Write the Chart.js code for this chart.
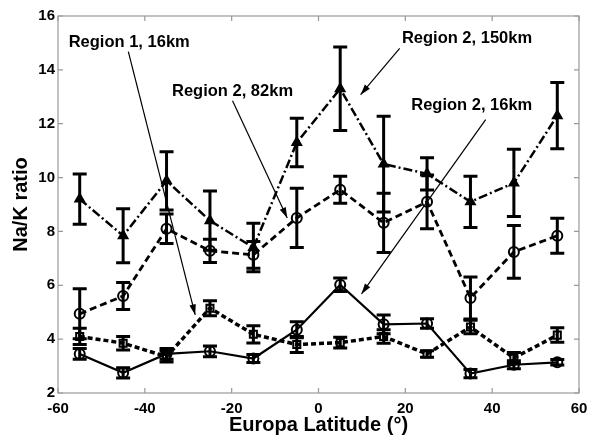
<!DOCTYPE html>
<html>
<head>
<meta charset="utf-8">
<script src="https://cdn.jsdelivr.net/npm/chart.js@4.4.0/dist/chart.umd.min.js"></script>
<style>
  html, body { margin: 0; padding: 0; background: #fff; }
  #wrap { width: 589px; height: 439px; }
</style>
</head>
<body>
<div id="wrap"><canvas id="naChart" width="589" height="439"></canvas></div>
<script>
// latitude bins (deg)
const latitudes = [-55, -45, -35, -25, -15, -5, 5, 15, 25, 35, 45, 55];

// Na/K ratio per region/altitude, with +/- error
const region2_150 = [9.2, 7.84, 9.88, 8.4, 7.4, 11.3, 13.3, 10.5, 10.14, 9.1, 9.8, 12.3];
const region2_150Err = [0.93, 1.0, 1.08, 1.1, 0.9, 0.9, 1.55, 1.78, 0.6, 0.95, 1.25, 1.23];
const region2_82 = [4.94, 5.6, 8.1, 7.28, 7.13, 8.5, 9.55, 8.32, 9.1, 5.53, 7.24, 7.84];
const region2_82Err = [0.93, 0.5, 0.55, 0.43, 0.5, 1.1, 0.5, 1.1, 1.0, 0.78, 0.98, 0.65];
const region1_16 = [4.1, 3.85, 3.35, 5.15, 4.18, 3.8, 3.87, 4.1, 3.45, 4.45, 3.3, 4.15];
const region1_16Err = [0.3, 0.25, 0.2, 0.28, 0.32, 0.3, 0.2, 0.25, 0.12, 0.25, 0.2, 0.27];
const region2_16 = [3.45, 2.75, 3.45, 3.55, 3.28, 4.35, 6.02, 4.55, 4.58, 2.72, 3.05, 3.14];
const region2_16Err = [0.2, 0.19, 0.2, 0.2, 0.15, 0.3, 0.25, 0.35, 0.18, 0.15, 0.15, 0.1];

const xTicks = [-60, -40, -20, 0, 20, 40, 60];
const yTicks = [2, 4, 6, 8, 10, 12, 14, 16];

// labels with arrows: text position, arrow from -> to (data coords)
const labels = [
  { text: 'Region 1, 16km', at: [-43.6, 15.0], from: [-43.8, 14.68], to: [-28.4, 4.9] },
  { text: 'Region 2, 82km', at: [-19.8, 13.2], from: [-19.8, 12.85], to: [-7.2, 8.5] },
  { text: 'Region 2, 150km', at: [34.2, 15.16], from: [18.7, 14.8], to: [9.7, 13.08] },
  { text: 'Region 2, 16km', at: [35.3, 12.67], from: [38.5, 12.15], to: [9.9, 5.68] },
];

const FONT = '"Liberation Sans", Arial, sans-serif';

const toPoints = vals => vals.map((v, i) => ({ x: latitudes[i], y: v }));

const series = [
  { label: 'Region 2, 150km', data: region2_150, err: region2_150Err, dash: [9, 3, 2, 3], width: 2.5, marker: 'triangle', fill: '#000' },
  { label: 'Region 2, 82km', data: region2_82, err: region2_82Err, dash: [7, 4], width: 2.8, marker: 'circle', fill: 'rgba(0,0,0,0)' },
  { label: 'Region 1, 16km', data: region1_16, err: region1_16Err, dash: [5, 3], width: 3.5, marker: 'rect', fill: 'rgba(0,0,0,0)' },
  { label: 'Region 2, 16km', data: region2_16, err: region2_16Err, dash: [], width: 2.2, marker: 'circle', fill: 'rgba(0,0,0,0)' },
];

const errorBars = {
  id: 'errorBars',
  afterDatasetsDraw(chart) {
    const ctx = chart.ctx;
    const xs = chart.scales.x, ys = chart.scales.y;
    ctx.save();
    ctx.strokeStyle = '#000';
    ctx.lineWidth = 3;
    series.forEach(s => {
      s.data.forEach((v, i) => {
        const px = xs.getPixelForValue(latitudes[i]);
        const top = ys.getPixelForValue(v + s.err[i]);
        const bot = ys.getPixelForValue(v - s.err[i]);
        ctx.beginPath();
        ctx.moveTo(px, top); ctx.lineTo(px, bot);
        ctx.moveTo(px - 7, top); ctx.lineTo(px + 7, top);
        ctx.moveTo(px - 7, bot); ctx.lineTo(px + 7, bot);
        ctx.stroke();
      });
    });
    ctx.restore();
  }
};

const frameAndNotes = {
  id: 'frameAndNotes',
  afterDraw(chart) {
    const ctx = chart.ctx;
    const a = chart.chartArea;
    const xs = chart.scales.x, ys = chart.scales.y;
    ctx.save();
    ctx.strokeStyle = '#999';
    ctx.lineWidth = 1.2;
    ctx.strokeRect(a.left, a.top, a.right - a.left, a.bottom - a.top);
    ctx.beginPath();
    xTicks.forEach(t => {
      const px = xs.getPixelForValue(t);
      ctx.moveTo(px, a.bottom); ctx.lineTo(px, a.bottom - 5);
      ctx.moveTo(px, a.top); ctx.lineTo(px, a.top + 5);
    });
    yTicks.forEach(t => {
      const py = ys.getPixelForValue(t);
      ctx.moveTo(a.left, py); ctx.lineTo(a.left + 5, py);
      ctx.moveTo(a.right, py); ctx.lineTo(a.right - 5, py);
    });
    ctx.stroke();

    // annotations
    ctx.fillStyle = '#000';
    ctx.strokeStyle = '#000';
    ctx.font = 'bold 16.5px ' + FONT;
    ctx.textAlign = 'center';
    ctx.textBaseline = 'middle';
    labels.forEach(l => {
      ctx.fillText(l.text, xs.getPixelForValue(l.at[0]), ys.getPixelForValue(l.at[1]));
      const x1 = xs.getPixelForValue(l.from[0]), y1 = ys.getPixelForValue(l.from[1]);
      const x2 = xs.getPixelForValue(l.to[0]), y2 = ys.getPixelForValue(l.to[1]);
      ctx.lineWidth = 1.2;
      ctx.beginPath();
      ctx.moveTo(x1, y1); ctx.lineTo(x2, y2);
      ctx.stroke();
      const ang = Math.atan2(y2 - y1, x2 - x1);
      ctx.beginPath();
      ctx.moveTo(x2, y2);
      ctx.lineTo(x2 - 11 * Math.cos(ang - 0.3), y2 - 11 * Math.sin(ang - 0.3));
      ctx.lineTo(x2 - 11 * Math.cos(ang + 0.3), y2 - 11 * Math.sin(ang + 0.3));
      ctx.closePath();
      ctx.fill();
    });
    ctx.restore();
  }
};

new Chart(document.getElementById('naChart').getContext('2d'), {
  type: 'line',
  data: {
    datasets: series.map(s => ({
      label: s.label,
      data: toPoints(s.data),
      borderColor: '#000',
      borderWidth: s.width,
      borderDash: s.dash,
      pointStyle: s.marker,
      pointRadius: 5,
      pointBorderWidth: 2,
      pointBorderColor: '#000',
      pointBackgroundColor: s.fill,
      tension: 0,
      fill: false,
    })),
  },
  options: {
    responsive: false,
    animation: false,
    layout: { padding: { top: 16, right: 10, left: 0, bottom: 0 } },
    plugins: { legend: { display: false }, tooltip: { enabled: false } },
    scales: {
      x: {
        type: 'linear',
        min: -60, max: 60,
        afterFit: s => { s.height = 46; s.paddingLeft = 0; s.paddingRight = 0; },
        afterBuildTicks: s => { s.ticks = xTicks.map(v => ({ value: v })); },
        grid: { display: false, drawTicks: false },
        border: { display: false },
        ticks: { color: '#000', font: { family: FONT, size: 15, weight: 'bold' }, padding: 7, maxRotation: 0 },
        title: { display: true, text: 'Europa Latitude (°)', color: '#000', font: { family: FONT, size: 20, weight: 'bold' }, padding: { top: 0, bottom: 2 } },
      },
      y: {
        min: 2, max: 16,
        afterFit: s => { s.width = 58; s.paddingTop = 0; s.paddingBottom = 0; },
        afterBuildTicks: s => { s.ticks = yTicks.map(v => ({ value: v })); },
        grid: { display: false, drawTicks: false },
        border: { display: false },
        ticks: { color: '#000', font: { family: FONT, size: 15, weight: 'bold' }, padding: 3 },
        title: { display: true, text: 'Na/K ratio', color: '#000', font: { family: FONT, size: 20, weight: 'bold' }, padding: { top: 9, bottom: 0 } },
      },
    },
  },
  plugins: [errorBars, frameAndNotes],
});
</script>
</body>
</html>
